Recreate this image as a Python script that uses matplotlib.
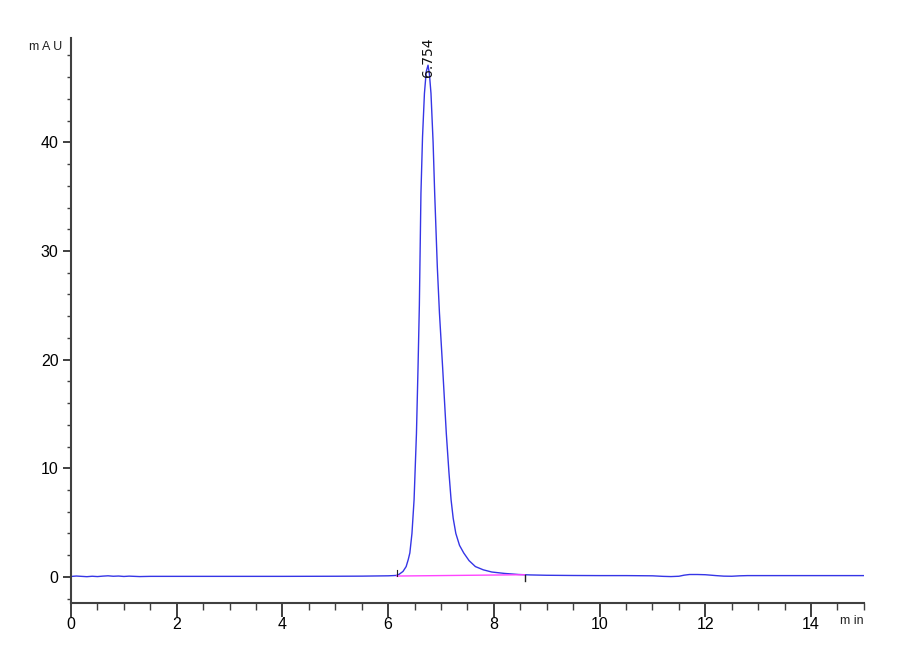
import matplotlib
matplotlib.use("Agg")
import matplotlib.pyplot as plt
from matplotlib.ticker import MultipleLocator

# Chromatogram signal (time in min, absorbance in mAU)
time_min = [0.0, 0.1, 0.2, 0.3, 0.4, 0.5, 0.6, 0.7, 0.8, 0.9, 1.0, 1.1, 1.2, 1.3,
            1.5, 2.0, 3.0, 4.0, 5.0, 5.5, 6.0, 6.1, 6.16,
            6.21, 6.28, 6.34, 6.38, 6.41, 6.45, 6.49, 6.535, 6.565, 6.59, 6.62,
            6.65, 6.686, 6.72, 6.754, 6.78, 6.81, 6.85, 6.88, 6.93, 6.97, 7.03,
            7.10, 7.15, 7.19, 7.23, 7.28, 7.35, 7.43, 7.53, 7.65, 7.8, 7.96, 8.2, 8.47,
            8.58, 8.7, 9.0, 9.5, 10.0, 10.5, 11.0, 11.2, 11.35, 11.5, 11.6,
            11.7, 11.85, 12.0, 12.2, 12.35, 12.5, 12.65, 12.8, 13.0, 14.0, 15.0]
signal_mau = [0.04, 0.08, 0.05, 0.02, 0.06, 0.03, 0.07, 0.1, 0.06, 0.08, 0.04, 0.07, 0.05, 0.03,
              0.05, 0.05, 0.05, 0.05, 0.06, 0.07, 0.1, 0.12, 0.14,
              0.25, 0.5, 0.95, 1.6, 2.2, 4.0, 7.1, 13.2, 19.3, 25.0, 35.3,
              40.5, 44.5, 46.5, 47.1, 46.3, 44.5, 40.0, 35.3, 28.5, 24.3, 19.3,
              13.2, 9.6, 7.1, 5.4, 4.0, 2.9, 2.2, 1.5, 0.95, 0.65, 0.45, 0.32, 0.22,
              0.2, 0.18, 0.15, 0.13, 0.12, 0.12, 0.1, 0.05, 0.03, 0.06, 0.16,
              0.22, 0.22, 0.2, 0.12, 0.07, 0.06, 0.1, 0.12, 0.12, 0.12, 0.12]

# Integration baseline
baseline_t = [6.16, 8.58]
baseline_y = [0.08, 0.2]

peak_rt = 6.754
peak_height = 47.1
peak_label = "6.754"

x_ticks = [0, 2, 4, 6, 8, 10, 12, 14]
y_ticks = [0, 10, 20, 30, 40]

fam = ['Liberation Sans Narrow', 'Liberation Sans', 'DejaVu Sans']

fig = plt.figure(figsize=(9, 6.6), dpi=100)
ax = fig.add_axes([0.0789, 0.0864, 0.881, 0.856])

ax.plot(time_min, signal_mau, color='#3535e6', lw=1.0)
ax.plot(baseline_t, baseline_y, color='#ff44ff', lw=1.0)
# integration start/end markers
ax.plot([baseline_t[0], baseline_t[0]], [baseline_y[0], baseline_y[0] + 0.6], color='#222222', lw=0.8)
ax.plot([baseline_t[1], baseline_t[1]], [baseline_y[1], baseline_y[1] - 0.6], color='#222222', lw=1.0)

ax.text(peak_rt, peak_height - 1.1, peak_label, rotation=90, ha='center', va='bottom',
        fontsize=10, family=['DejaVu Sans'], color='#111111')

ax.set_xlim(0, 15)
ax.set_ylim(-2.4, 49.6)
ax.set_xticks(x_ticks)
ax.set_yticks(y_ticks)
ax.xaxis.set_minor_locator(MultipleLocator(0.5))
ax.yaxis.set_minor_locator(MultipleLocator(2))

for s in ['top', 'right']:
    ax.spines[s].set_visible(False)
for s in ['left', 'bottom']:
    ax.spines[s].set_color('#404040')
    ax.spines[s].set_linewidth(1.5)

ax.tick_params(axis='x', which='major', direction='out', length=10, width=1.3, color='#303030',
               labelsize=11.5, pad=0)
ax.tick_params(axis='x', which='minor', direction='out', length=5, width=1.0, color='#404040')
ax.tick_params(axis='y', which='major', direction='out', length=6, width=1.3, color='#303030',
               labelsize=11.5, pad=3)
ax.tick_params(axis='y', which='minor', direction='out', length=3, width=1.0, color='#404040')
for lab in ax.get_xticklabels() + ax.get_yticklabels():
    lab.set_family(fam)

fig.text(62 / 900, 1 - 47 / 660, "m A U", ha='right', va='center', fontsize=9, family=fam, color='#222222')
fig.text(864 / 900, 1 - 621 / 660, "m in", ha='right', va='center', fontsize=9, family=fam, color='#222222')

fig.savefig("out.png", dpi=100)
